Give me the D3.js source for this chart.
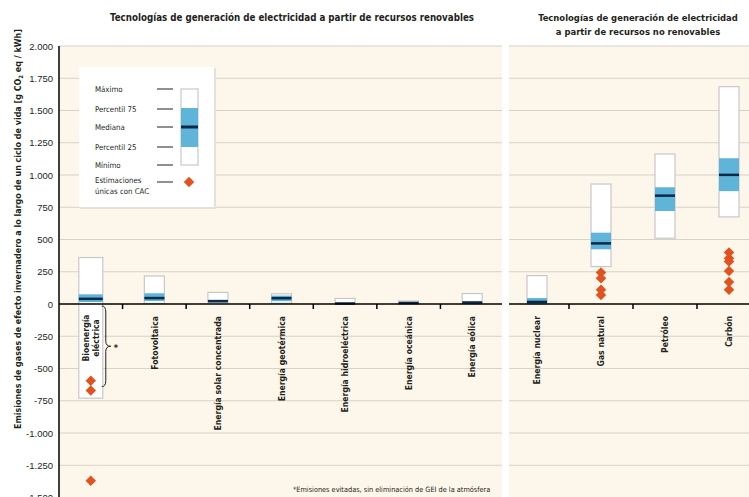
<!DOCTYPE html>
<html>
<head>
<meta charset="utf-8">
<script src="https://cdn.jsdelivr.net/npm/d3@7"></script>
<style>
  body { margin: 0; background: #fff; }
  svg { display: block; font-family: "Liberation Sans Narrow", "DejaVu Sans Condensed", "Roboto", sans-serif; }
</style>
</head>
<body>
<svg width="749" height="497"></svg>
<script>
// categories
var renewables = ["Bioenergía eléctrica", "Fotovoltaica", "Energía solar concentrada", "Energía geotérmica",
                  "Energía hidroeléctrica", "Energía oceánica", "Energía eólica"]
var fossils = ["Energía nuclear", "Gas natural", "Petróleo", "Carbón"]

// box values, g CO2eq/kWh
var renMin    = [-730, 5, 9, 6, 0, 2, 2]
var renP25    = [15, 23, 14, 22, 1, 4, 6]
var renMedian = [40, 46, 22, 45, 4, 8, 12]
var renP75    = [75, 83, 32, 65, 7, 10, 16]
var renMax    = [360, 217, 90, 79, 43, 23, 81]

var fosMin    = [1, 290, 510, 675]
var fosP25    = [2, 424, 721, 875]
var fosMedian = [16, 470, 840, 1001]
var fosP75    = [46, 553, 905, 1130]
var fosMax    = [220, 930, 1163, 1685]

// single estimates with CCS
var ccsCategory = ["Bioenergía eléctrica", "Bioenergía eléctrica", "Bioenergía eléctrica",
                   "Gas natural", "Gas natural", "Gas natural", "Gas natural",
                   "Carbón", "Carbón", "Carbón", "Carbón", "Carbón", "Carbón"]
var ccsValue = [-595, -670, -1370, 245, 200, 110, 70, 400, 355, 330, 255, 170, 110]

var yTicks = [2000, 1750, 1500, 1250, 1000, 750, 500, 250, 0, -250, -500, -750, -1000, -1250, -1500]

var cream = "#fdf6ea", blue = "#5fb4da", navy = "#0b2a4a", orange = "#e0521e", ink = "#231f20"

var svg = d3.select("svg")

var y = d3.scaleLinear().domain([-1500, 2000]).range([497.5, 46])
var xRen = d3.scaleBand().domain(renewables).range([59, 504])
var xFos = d3.scaleBand().domain(fossils).range([505, 761])

var es = d3.formatLocale({decimal: ",", thousands: ".", grouping: [3], currency: ["", "€"], minus: "-"})
var fmt = es.format(",d")

// panel backgrounds
svg.append("rect").attr("x", 59).attr("y", y(2000)).attr("width", 502 - 59).attr("height", 497 - y(2000)).attr("fill", cream)
svg.append("rect").attr("x", 509).attr("y", y(2000)).attr("width", 749 - 509).attr("height", 497 - y(2000)).attr("fill", cream)

// grid lines
var grid = svg.append("g")
yTicks.forEach(function (t) {
    if (t === 0) return
    grid.append("line").attr("x1", 59).attr("x2", 502).attr("y1", y(t)).attr("y2", y(t))
        .attr("stroke", "#d6d1c9").attr("stroke-width", 1.2)
    grid.append("line").attr("x1", 509).attr("x2", 749).attr("y1", y(t)).attr("y2", y(t))
        .attr("stroke", "#d6d1c9").attr("stroke-width", 1.2)
})

// y axis
var yAxis = svg.append("g").attr("transform", "translate(59,0)")
    .call(d3.axisLeft(y).tickValues(yTicks).tickFormat(fmt).tickSize(0).tickPadding(6))
yAxis.select(".domain").remove()
yAxis.selectAll("text").attr("font-size", 9.5).attr("fill", ink).attr("font-family", null)
svg.append("line").attr("x1", 59).attr("x2", 59).attr("y1", y(2000)).attr("y2", 497)
    .attr("stroke", "#000").attr("stroke-width", 1.5)

// legend
var lg = svg.append("g")
lg.append("rect").attr("x", 80).attr("y", 68).attr("width", 136).attr("height", 141).attr("fill", "#e4e0da")
lg.append("rect").attr("x", 79).attr("y", 67).attr("width", 135).attr("height", 140).attr("fill", "#fff")
var legRows = ["Máximo", "Percentil 75", "Mediana", "Percentil 25", "Mínimo"]
var legY = [89, 109, 127, 147, 165]
legRows.forEach(function (r, i) {
    lg.append("text").attr("x", 95).attr("y", legY[i] + 3).attr("font-size", 7.8).attr("fill", ink).text(r)
    lg.append("line").attr("x1", 157).attr("x2", 173).attr("y1", legY[i]).attr("y2", legY[i])
        .attr("stroke", ink).attr("stroke-width", 1)
})
lg.append("text").attr("x", 95).attr("y", 183).attr("font-size", 7.8).attr("fill", ink).text("Estimaciones")
lg.append("text").attr("x", 95).attr("y", 194).attr("font-size", 7.8).attr("fill", ink).text("únicas con CAC")
lg.append("line").attr("x1", 157).attr("x2", 173).attr("y1", 182).attr("y2", 182).attr("stroke", ink)
lg.append("rect").attr("x", 181).attr("y", 89).attr("width", 17).attr("height", 76)
    .attr("fill", "#fff").attr("stroke", "#c8c8c8").attr("stroke-width", 1.2)
lg.append("rect").attr("x", 181).attr("y", 108).attr("width", 17).attr("height", 39).attr("fill", blue)
lg.append("line").attr("x1", 181).attr("x2", 198).attr("y1", 127).attr("y2", 127).attr("stroke", navy).attr("stroke-width", 3)
lg.append("path").attr("d", d3.symbol(d3.symbolDiamond2, 70)()).attr("transform", "translate(189,182)").attr("fill", orange)

// boxes
function drawBoxes(x, cats, mn, p25, med, p75, mx) {
    var g = svg.append("g")
    cats.forEach(function (c, i) {
        var w = i === 0 && x === xRen ? 24 : 20
        var cx = x(c) + x.bandwidth() / 2
        g.append("rect").attr("x", cx - w / 2).attr("y", y(mx[i])).attr("width", w)
            .attr("height", y(mn[i]) - y(mx[i]))
            .attr("fill", "#fff").attr("stroke", "#c8c8c8").attr("stroke-width", 1.2)
        g.append("rect").attr("x", cx - w / 2).attr("y", y(p75[i])).attr("width", w)
            .attr("height", Math.max(1, y(p25[i]) - y(p75[i]))).attr("fill", blue)
        g.append("line").attr("x1", cx - w / 2).attr("x2", cx + w / 2)
            .attr("y1", y(med[i])).attr("y2", y(med[i]))
            .attr("stroke", navy).attr("stroke-width", 2.5)
    })
}
drawBoxes(xRen, renewables, renMin, renP25, renMedian, renP75, renMax)
drawBoxes(xFos, fossils, fosMin, fosP25, fosMedian, fosP75, fosMax)

// zero line with ticks between categories
svg.append("line").attr("x1", 59).attr("x2", 502).attr("y1", y(0)).attr("y2", y(0)).attr("stroke", "#000").attr("stroke-width", 1.5)
svg.append("line").attr("x1", 509).attr("x2", 749).attr("y1", y(0)).attr("y2", y(0)).attr("stroke", "#000").attr("stroke-width", 1.5)
renewables.slice(1).forEach(function (c) {
    svg.append("line").attr("x1", xRen(c)).attr("x2", xRen(c)).attr("y1", y(0)).attr("y2", y(0) + 5).attr("stroke", "#000").attr("stroke-width", 1.5)
})
fossils.slice(1).forEach(function (c) {
    svg.append("line").attr("x1", xFos(c)).attr("x2", xFos(c)).attr("y1", y(0)).attr("y2", y(0) + 5).attr("stroke", "#000").attr("stroke-width", 1.5)
})

// CCS diamonds
ccsCategory.forEach(function (c, i) {
    var cx = renewables.indexOf(c) >= 0 ? xRen(c) + xRen.bandwidth() / 2 : xFos(c) + xFos.bandwidth() / 2
    svg.append("path").attr("d", d3.symbol(d3.symbolDiamond2, 70)())
        .attr("transform", "translate(" + cx + "," + y(ccsValue[i]) + ")").attr("fill", orange)
})

// category labels
function catLabel(x, c) {
    var cx = x(c) + x.bandwidth() / 2
    svg.append("text").attr("transform", "translate(" + (cx + 3.2) + "," + (y(0) + 12) + ") rotate(-90)")
        .attr("text-anchor", "end").attr("font-size", 8.6).attr("font-weight", "bold").attr("fill", ink).text(c)
}
renewables.slice(1).forEach(function (c) { catLabel(xRen, c) })
fossils.forEach(function (c) { catLabel(xFos, c) })
var bioX = xRen(renewables[0]) + xRen.bandwidth() / 2
var bioLabel = svg.append("text").attr("transform", "translate(" + bioX + "," + (y(0) + 34) + ") rotate(-90)")
    .attr("text-anchor", "middle").attr("font-size", 8.6).attr("font-weight", "bold").attr("fill", ink)
bioLabel.append("tspan").attr("x", 0).attr("dy", -1.5).text("Bioenergía")
bioLabel.append("tspan").attr("x", 0).attr("dy", 9.5).text("eléctrica")

// brace for avoided emissions
var bt = y(0) + 2, bb = y(-640), bm = (bt + bb) / 2, bx = bioX + 15
svg.append("path")
    .attr("d", "M" + (bx - 4) + "," + bt + " Q" + bx + "," + bt + " " + bx + "," + (bt + 6) +
        " L" + bx + "," + (bm - 5) + " Q" + bx + "," + bm + " " + (bx + 5) + "," + bm +
        " Q" + bx + "," + bm + " " + bx + "," + (bm + 5) +
        " L" + bx + "," + (bb - 6) + " Q" + bx + "," + bb + " " + (bx - 4) + "," + bb)
    .attr("fill", "none").attr("stroke", ink).attr("stroke-width", 1)
svg.append("text").attr("x", bx + 8).attr("y", bm + 5).attr("font-size", 9).attr("font-weight", "bold").attr("fill", ink).text("*")

// titles
svg.append("text").attr("x", 292).attr("y", 21).attr("text-anchor", "middle").attr("font-size", 9.7)
    .attr("font-weight", "bold").attr("fill", ink).text("Tecnologías de generación de electricidad a partir de recursos renovables")
svg.append("text").attr("x", 638).attr("y", 21).attr("text-anchor", "middle").attr("font-size", 9.4)
    .attr("font-weight", "bold").attr("fill", ink).text("Tecnologías de generación de electricidad")
svg.append("text").attr("x", 638).attr("y", 35).attr("text-anchor", "middle").attr("font-size", 9.4)
    .attr("font-weight", "bold").attr("fill", ink).text("a partir de recursos no renovables")

// y axis title
var yt = svg.append("text").attr("transform", "translate(21,229) rotate(-90)").attr("text-anchor", "middle")
    .attr("font-size", 8.9).attr("font-weight", "bold").attr("fill", ink)
yt.append("tspan").text("Emisiones de gases de efecto invernadero a lo largo de un ciclo de vida [g CO")
yt.append("tspan").attr("font-size", 6).attr("dy", 2).text("2")
yt.append("tspan").attr("dy", -2).text(" eq / kWh]")

// footnote
svg.append("text").attr("x", 293).attr("y", 492).attr("font-size", 7.3).attr("fill", ink)
    .text("*Emisiones evitadas, sin eliminación de GEI de la atmósfera")
</script>
</body>
</html>
